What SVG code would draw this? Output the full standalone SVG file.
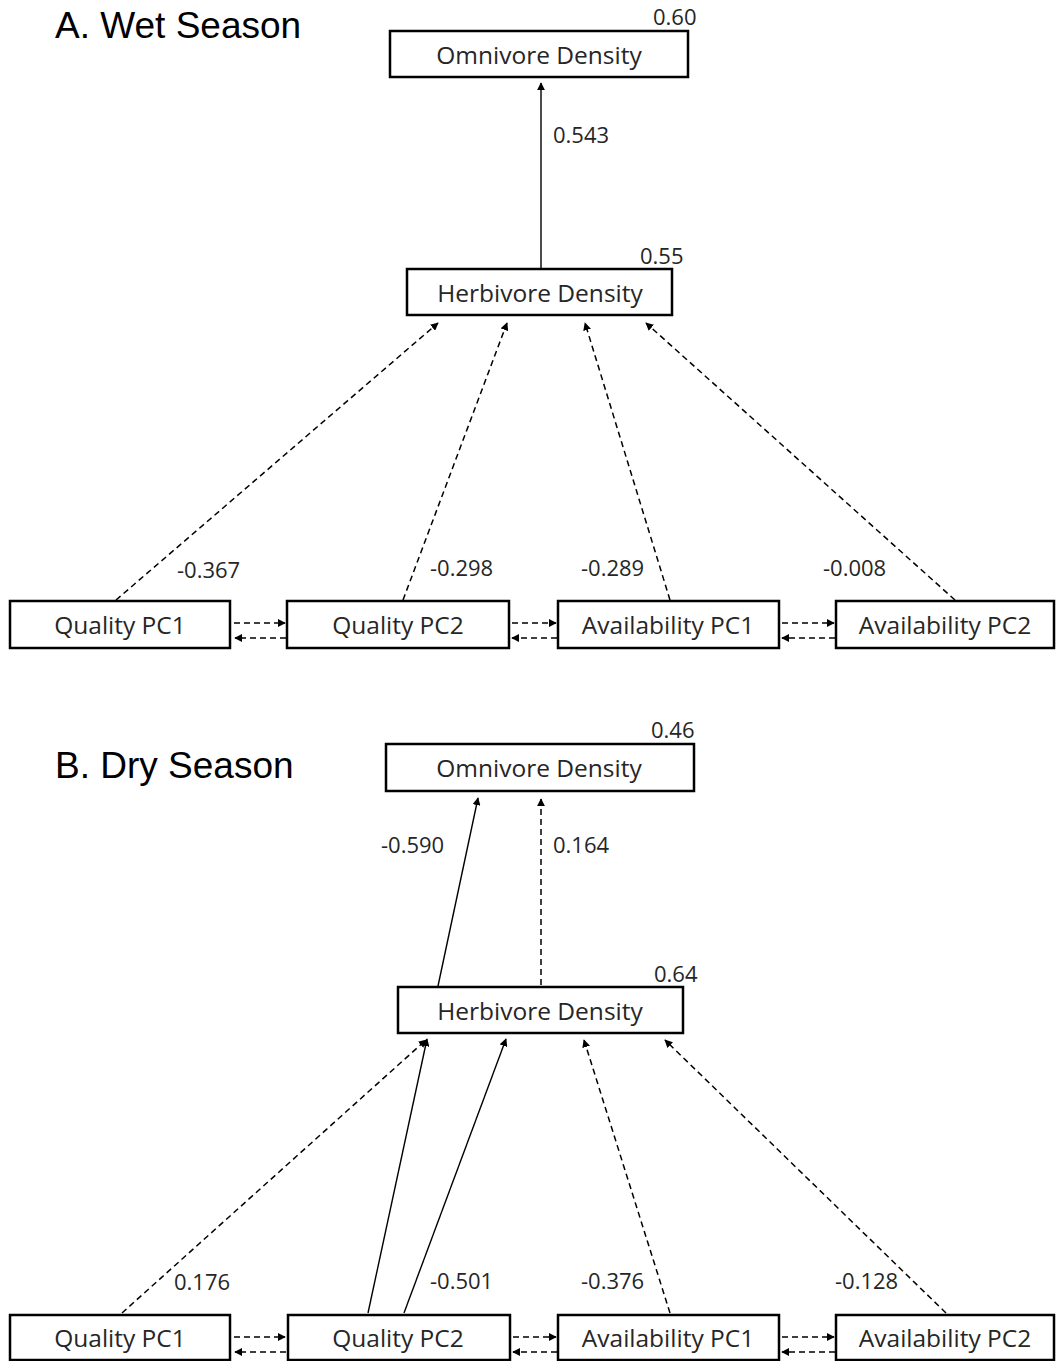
<svg xmlns="http://www.w3.org/2000/svg" width="1056" height="1361" viewBox="0 0 1056 1361">
<style>
.box{fill:#fff;stroke:#000;stroke-width:2.5}
.lbl{font-family:"Open Sans","Noto Sans",sans-serif;font-size:24.5px;fill:#262626;text-anchor:middle}
.num{font-family:"Open Sans","Noto Sans",sans-serif;font-size:22px;fill:#262626}
.title{font-family:"Liberation Sans",Arial,sans-serif;font-size:37px;fill:#000}
.solid{stroke:#000;stroke-width:1.4;fill:none;marker-end:url(#ah)}
.dash{stroke:#000;stroke-width:1.5;fill:none;stroke-dasharray:6,4;marker-end:url(#ah)}
</style>
<defs>
<marker id="ah" viewBox="0 0 10 10" refX="9" refY="5" markerWidth="8" markerHeight="8" markerUnits="userSpaceOnUse" orient="auto">
<path d="M0,0 L10,5 L0,10 z" fill="#000"/>
</marker>
</defs>
<rect width="1056" height="1361" fill="#fff"/>
<text class="title" x="55" y="38">A. Wet Season</text>
<text class="title" x="55" y="778">B. Dry Season</text>

<g id="connectors">
<!-- Panel A -->
<line class="solid" x1="541" y1="268" x2="541" y2="83"/>
<line class="dash" x1="116" y1="600" x2="438" y2="323"/>
<line class="dash" x1="403" y1="600" x2="507" y2="323"/>
<line class="dash" x1="670" y1="600" x2="585" y2="323"/>
<line class="dash" x1="955" y1="600" x2="646" y2="323"/>
<line class="dash" x1="234" y1="623" x2="285" y2="623"/>
<line class="dash" x1="286" y1="638" x2="235" y2="638"/>
<line class="dash" x1="512" y1="623" x2="556" y2="623"/>
<line class="dash" x1="557" y1="638" x2="512" y2="638"/>
<line class="dash" x1="782" y1="623" x2="834" y2="623"/>
<line class="dash" x1="835" y1="638" x2="782" y2="638"/>
<!-- Panel B -->
<line class="solid" x1="438" y1="986" x2="478" y2="798"/>
<line class="dash" x1="541" y1="985" x2="541" y2="799"/>
<line class="dash" x1="122" y1="1313" x2="426" y2="1040"/>
<line class="solid" x1="368" y1="1313" x2="427" y2="1039"/>
<line class="solid" x1="404" y1="1313" x2="506" y2="1039"/>
<line class="dash" x1="670" y1="1313" x2="584" y2="1040"/>
<line class="dash" x1="946" y1="1313" x2="665" y2="1040"/>
<line class="dash" x1="234" y1="1337" x2="285" y2="1337"/>
<line class="dash" x1="286" y1="1352" x2="235" y2="1352"/>
<line class="dash" x1="513" y1="1337" x2="556" y2="1337"/>
<line class="dash" x1="557" y1="1352" x2="513" y2="1352"/>
<line class="dash" x1="782" y1="1337" x2="834" y2="1337"/>
<line class="dash" x1="835" y1="1352" x2="782" y2="1352"/>
</g>

<g id="edge-labels">
<text class="num" x="553" y="143">0.543</text>
<text class="num" x="177" y="578">-0.367</text>
<text class="num" x="430" y="576">-0.298</text>
<text class="num" x="581" y="576">-0.289</text>
<text class="num" x="823" y="576">-0.008</text>
<text class="num" x="381" y="853">-0.590</text>
<text class="num" x="553" y="853">0.164</text>
<text class="num" x="174" y="1290">0.176</text>
<text class="num" x="430" y="1289">-0.501</text>
<text class="num" x="581" y="1289">-0.376</text>
<text class="num" x="835" y="1289">-0.128</text>
</g>

<!-- Panel A nodes -->
<g id="A-omnivore">
<rect class="box" x="390" y="31" width="298" height="46"/>
<text class="lbl" x="539" y="64">Omnivore Density</text>
<text class="num" x="653" y="25">0.60</text>
</g>
<g id="A-herbivore">
<rect class="box" x="407" y="269" width="265" height="46"/>
<text class="lbl" x="540" y="302">Herbivore Density</text>
<text class="num" x="640" y="264">0.55</text>
</g>
<g id="A-qpc1">
<rect class="box" x="10" y="601" width="220" height="47"/>
<text class="lbl" x="120" y="634">Quality PC1</text>
</g>
<g id="A-qpc2">
<rect class="box" x="287" y="601" width="222" height="47"/>
<text class="lbl" x="398" y="634">Quality PC2</text>
</g>
<g id="A-apc1">
<rect class="box" x="558" y="601" width="221" height="47"/>
<text class="lbl" x="668" y="634">Availability PC1</text>
</g>
<g id="A-apc2">
<rect class="box" x="836" y="601" width="218" height="47"/>
<text class="lbl" x="945" y="634">Availability PC2</text>
</g>

<!-- Panel B nodes -->
<g id="B-omnivore">
<rect class="box" x="386" y="744" width="308" height="47"/>
<text class="lbl" x="539" y="777">Omnivore Density</text>
<text class="num" x="651" y="738">0.46</text>
</g>
<g id="B-herbivore">
<rect class="box" x="398" y="987" width="285" height="46"/>
<text class="lbl" x="540" y="1020">Herbivore Density</text>
<text class="num" x="654" y="982">0.64</text>
</g>
<g id="B-qpc1">
<rect class="box" x="10" y="1315" width="220" height="45"/>
<text class="lbl" x="120" y="1347">Quality PC1</text>
</g>
<g id="B-qpc2">
<rect class="box" x="288" y="1315" width="222" height="45"/>
<text class="lbl" x="398" y="1347">Quality PC2</text>
</g>
<g id="B-apc1">
<rect class="box" x="558" y="1315" width="221" height="45"/>
<text class="lbl" x="668" y="1347">Availability PC1</text>
</g>
<g id="B-apc2">
<rect class="box" x="836" y="1315" width="218" height="45"/>
<text class="lbl" x="945" y="1347">Availability PC2</text>
</g>
</svg>
